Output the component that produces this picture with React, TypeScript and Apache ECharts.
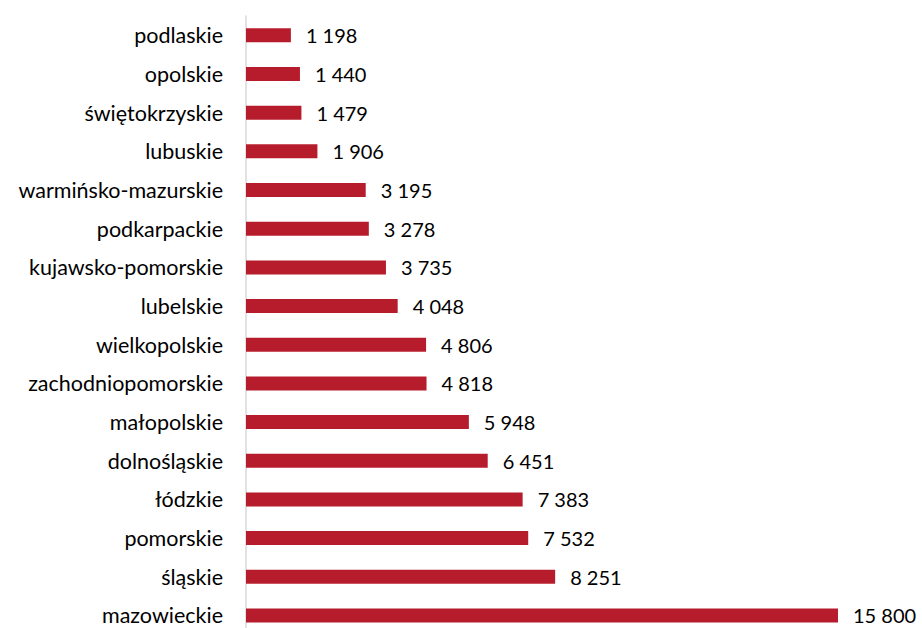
import React, { useEffect, useRef } from "react";
import * as echarts from "echarts";

const categories = [
  "podlaskie",
  "opolskie",
  "świętokrzyskie",
  "lubuskie",
  "warmińsko-mazurskie",
  "podkarpackie",
  "kujawsko-pomorskie",
  "lubelskie",
  "wielkopolskie",
  "zachodniopomorskie",
  "małopolskie",
  "dolnośląskie",
  "łódzkie",
  "pomorskie",
  "śląskie",
  "mazowieckie",
];

const values = [
  1198, 1440, 1479, 1906, 3195, 3278, 3735, 4048, 4806, 4818, 5948, 6451, 7383,
  7532, 8251, 15800,
];

const fmt = (v: number) =>
  String(Math.round(v)).replace(/\B(?=(\d{3})+(?!\d))/g, " ");

export default function App() {
  const ref = useRef<HTMLDivElement>(null);
  useEffect(() => {
    if (!ref.current) return;
    const chart = echarts.init(ref.current, null, { renderer: "svg" });
    const font = "Lato";
    chart.setOption({
      animation: false,
      backgroundColor: "#ffffff",
      grid: { left: 246, right: 76.5, top: 16, bottom: 5.2, containLabel: false },
      xAxis: {
        type: "value",
        min: 0,
        max: 16000,
        show: false,
      },
      yAxis: {
        type: "category",
        inverse: true,
        data: categories,
        axisLine: { show: true, lineStyle: { color: "#d9d9d9", width: 1.5 } },
        axisTick: { show: false },
        axisLabel: {
          margin: 23,
          fontFamily: font,
          fontSize: 21.5,
          color: "#000000",
        },
        splitLine: { show: false },
      },
      series: [
        {
          type: "bar",
          data: values,
          barWidth: 14,
          itemStyle: { color: "#b71c2c" },
          label: {
            show: true,
            position: "right",
            distance: 15,
            fontFamily: font,
            fontSize: 20,
            color: "#000000",
            formatter: (p: any) => fmt(p.value),
          },
        },
      ],
    });
    return () => chart.dispose();
  }, []);
  return (
    <div
      style={{
        position: "fixed",
        left: 0,
        top: 0,
        width: 922,
        height: 628,
        overflow: "hidden",
        background: "#ffffff",
      }}
    >
      <div ref={ref} style={{ width: 922, height: 640 }} />
    </div>
  );
}
